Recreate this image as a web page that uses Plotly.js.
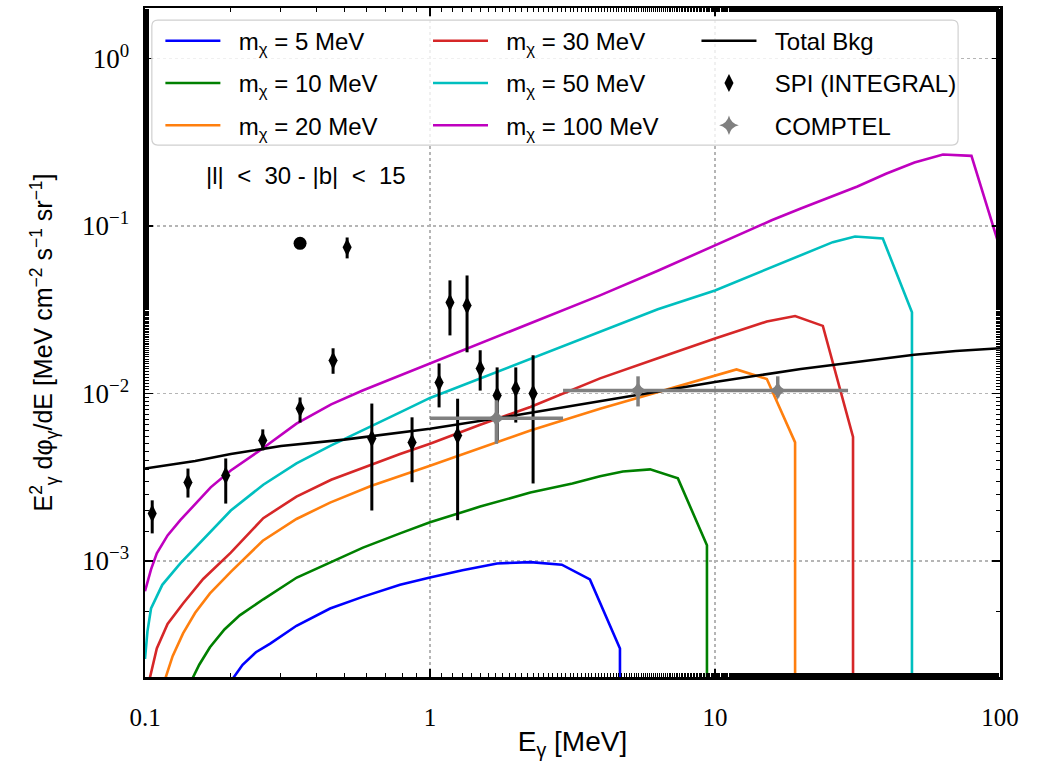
<!DOCTYPE html>
<html>
<head>
<meta charset="utf-8">
<script src="https://cdn.plot.ly/plotly-3.0.1.min.js"></script>
<style>body{margin:0;padding:0;background:#fff;} #chart{width:1038px;height:774px;}</style>
</head>
<body>
<div id="chart"></div>
<script>
// ---- Data ----
const m5E   = [0.204, 0.22, 0.245, 0.275, 0.34, 0.446, 0.58, 0.785, 1, 1.3, 1.72, 2.25, 2.9, 3.64, 4.64, 4.64];
const m5V   = [2.0e-4, 2.4e-4, 2.85e-4, 3.21e-4, 4.1e-4, 5.2e-4, 6.1e-4, 7.2e-4, 7.96e-4, 8.8e-4, 9.66e-4, 9.84e-4, 9.5e-4, 7.76e-4, 3.0e-4, 1e-7];

const m10E  = [0.147, 0.155, 0.169, 0.19, 0.215, 0.26, 0.341, 0.45, 0.582, 0.785, 1, 1.5, 2.25, 3.16, 3.95, 4.75, 5.92, 7.41, 9.37, 9.37];
const m10V  = [2.0e-4, 2.4e-4, 3.05e-4, 3.9e-4, 4.73e-4, 5.9e-4, 7.96e-4, 9.9e-4, 1.2e-3, 1.46e-3, 1.7e-3, 2.11e-3, 2.56e-3, 2.9e-3, 3.2e-3, 3.42e-3, 3.52e-3, 3.11e-3, 1.24e-3, 1e-7];

const m20E  = [0.118, 0.125, 0.136, 0.15, 0.169, 0.2, 0.259, 0.34, 0.446, 0.62, 1, 1.5, 2.25, 3.95, 6.3, 10, 11.9, 15.2, 19.1, 19.1];
const m20V  = [2.0e-4, 2.7e-4, 3.69e-4, 4.9e-4, 6.4e-4, 8.6e-4, 1.32e-3, 1.78e-3, 2.23e-3, 2.8e-3, 3.7e-3, 4.72e-3, 6.0e-3, 8.1e-3, 1.02e-2, 1.28e-2, 1.39e-2, 1.22e-2, 5.1e-3, 1e-7];

const m30E  = [0.104, 0.11, 0.12, 0.136, 0.16, 0.2, 0.26, 0.34, 0.45, 0.58, 0.785, 1, 1.5, 2.25, 3.95, 6.3, 10, 15.2, 19.1, 23.9, 30.5, 30.5];
const m30V  = [2.0e-4, 3.0e-4, 4.2e-4, 5.57e-4, 7.8e-4, 1.12e-3, 1.8e-3, 2.42e-3, 3.05e-3, 3.6e-3, 4.35e-3, 5.0e-3, 6.5e-3, 8.3e-3, 1.23e-2, 1.62e-2, 2.13e-2, 2.69e-2, 2.9e-2, 2.53e-2, 5.5e-3, 1e-7];

const m50E  = [0.1, 0.102, 0.105, 0.115, 0.133, 0.16, 0.2, 0.26, 0.34, 0.45, 0.58, 0.785, 1, 1.5, 2, 3, 3.95, 6.3, 10, 15.8, 20, 25.9, 31, 38.8, 49.1, 49.1];
const m50V  = [2.6e-4, 3.8e-4, 5.2e-4, 7.2e-4, 9.66e-4, 1.35e-3, 2.0e-3, 2.85e-3, 3.82e-3, 4.9e-3, 6.0e-3, 7.7e-3, 9.4e-3, 1.23e-2, 1.49e-2, 1.95e-2, 2.35e-2, 3.18e-2, 4.12e-2, 5.66e-2, 6.7e-2, 8.0e-2, 8.65e-2, 8.41e-2, 3.05e-2, 1e-7];

const m100E = [0.1, 0.105, 0.11, 0.12, 0.133, 0.15, 0.17, 0.2, 0.25, 0.34, 0.45, 0.58, 0.785, 1, 1.5, 2, 3, 3.95, 6.3, 10, 15.8, 20, 31.6, 39.8, 50.1, 63.1, 79.4, 100];
const m100V = [6.6e-4, 8.9e-4, 1.11e-3, 1.42e-3, 1.75e-3, 2.2e-3, 2.75e-3, 3.47e-3, 4.5e-3, 6.6e-3, 8.6e-3, 1.04e-2, 1.28e-2, 1.51e-2, 1.99e-2, 2.42e-2, 3.2e-2, 3.85e-2, 5.4e-2, 7.66e-2, 1.08e-1, 1.27e-1, 1.72e-1, 2.05e-1, 2.39e-1, 2.67e-1, 2.62e-1, 7.34e-2];

const bkgE  = [0.1, 0.15, 0.2, 0.3, 0.5, 0.7, 1, 2, 3, 5, 7, 10, 20, 30, 50, 70, 100];
const bkgV  = [3.56e-3, 3.95e-3, 4.35e-3, 4.85e-3, 5.3e-3, 5.7e-3, 6.15e-3, 7.4e-3, 8.3e-3, 9.6e-3, 1.06e-2, 1.17e-2, 1.40e-2, 1.52e-2, 1.70e-2, 1.79e-2, 1.86e-2];

const spiE   = [0.106, 0.1415, 0.192, 0.259, 0.35, 0.35, 0.457, 0.512, 0.625, 0.865, 1.076, 1.175, 1.25, 1.349, 1.50, 1.72, 2.0, 2.30];
const spiV   = [1.92e-3, 2.94e-3, 3.24e-3, 5.24e-3, 7.87e-2, 8.13e-3, 1.57e-2, 7.45e-2, 5.39e-3, 5.1e-3, 1.16e-2, 3.49e-2, 5.6e-3, 3.35e-2, 1.41e-2, 9.73e-3, 1.07e-2, 1.0e-2];
const spiHi  = [2.3e-3, 3.56e-3, 4.09e-3, 6.1e-3, 7.87e-2, 9.46e-3, 1.86e-2, 8.53e-2, 8.7e-3, 7.2e-3, 1.51e-2, 4.73e-2, 9.3e-3, 5.06e-2, 1.81e-2, 1.43e-2, 1.43e-2, 1.69e-2];
const spiLo  = [1.46e-3, 2.39e-3, 2.2e-3, 4.57e-3, 7.87e-2, 6.7e-3, 1.31e-2, 6.4e-2, 2.0e-3, 2.95e-3, 8.25e-3, 2.22e-2, 1.75e-3, 1.76e-2, 1.04e-2, 5.24e-3, 6.7e-3, 2.9e-3];

const comE   = [1.71, 5.37, 16.6];
const comELo = [1.0, 2.93, 10];
const comEHi = [2.93, 10, 29.3];
const comV   = [7.1e-3, 1.04e-2, 1.04e-2];
const comHi  = [9.1e-3, 1.265e-2, 1.265e-2];
const comLo  = [5.0e-3, 8.36e-3, 9.46e-3];

const tickXvals = [0.1, 1, 10, 100];
const tickXtext = ['0.1', '1', '10', '100'];
const tickYvals = [1e-3, 1e-2, 1e-1, 1];
const tickYtext = ['10<sup>−3</sup>', '10<sup>−2</sup>', '10<sup>−1</sup>', '10<sup>0</sup>'];

// ---- Styles ----
const LW = 2.6;
const GAP = '\u00A0\u00A0';
const sans = 'Liberation Sans, Arial, sans-serif';
const legFont = {family: sans, size: 24, color: '#000'};
function line(x, y, name, color, legend, rank) {
  return {x: x, y: y, name: GAP + name, type: 'scatter', mode: 'lines',
          line: {color: color, width: LW}, legend: legend, legendgroup: name, legendrank: rank};
}
const diff = (a, b) => a.map((v, i) => v - b[i]);

const traces = [
  line(m5E, m5V, 'm<sub>χ</sub> = 5 MeV', '#0000ff', 'legend', 1),
  line(m10E, m10V, 'm<sub>χ</sub> = 10 MeV', '#008000', 'legend', 2),
  line(m20E, m20V, 'm<sub>χ</sub> = 20 MeV', '#ff7f0e', 'legend', 3),
  line(m30E, m30V, 'm<sub>χ</sub> = 30 MeV', '#d62728', 'legend2', 1),
  line(m50E, m50V, 'm<sub>χ</sub> = 50 MeV', '#00bfbf', 'legend2', 2),
  line(m100E, m100V, 'm<sub>χ</sub> = 100 MeV', '#bf00bf', 'legend2', 3),
  line(bkgE, bkgV, 'Total Bkg', '#000000', 'legend3', 1),
  {x: spiE, y: spiV, name: GAP + 'SPI (INTEGRAL)', type: 'scatter', mode: 'markers',
   legend: 'legend3', legendgroup: 'spi', legendrank: 2,
   marker: {color: '#000', size: 13, symbol: spiE.map((e, i) => (spiHi[i] === spiV[i] ? 'circle' : 'diamond-tall'))},
   error_y: {type: 'data', symmetric: false, array: diff(spiHi, spiV), arrayminus: diff(spiV, spiLo),
             color: '#000', thickness: 3, width: 0}},
  {x: comE, y: comV, name: GAP + 'COMPTEL', type: 'scatter', mode: 'markers',
   legend: 'legend3', legendgroup: 'comptel', legendrank: 3,
   marker: {color: '#808080', size: 14, symbol: 'star-diamond'},
   error_x: {type: 'data', symmetric: false, array: diff(comEHi, comE), arrayminus: diff(comE, comELo),
             color: '#808080', thickness: 3.5, width: 0},
   error_y: {type: 'data', symmetric: false, array: diff(comHi, comV), arrayminus: diff(comV, comLo),
             color: '#808080', thickness: 3.5, width: 0}}
];

const legBase = {orientation: 'v', bgcolor: 'rgba(0,0,0,0)', borderwidth: 0, font: legFont,
                 itemwidth: 55, tracegroupgap: 8, yanchor: 'top', xanchor: 'left', y: 0.984};

const axisCommon = {
  type: 'log', showline: true, linecolor: '#000', linewidth: 2.5, mirror: 'ticks',
  ticks: 'inside', ticklen: 8, tickwidth: 1.5, tickcolor: '#000',
  showgrid: true, gridcolor: '#b5b5b5', gridwidth: 1.5, griddash: 'dot',
  zeroline: false, tickmode: 'array',
  minor: {ticks: 'inside', ticklen: 4, tickwidth: 1, tickcolor: '#000', showgrid: false}
};

const layout = {
  width: 1038, height: 774,
  margin: {l: 145, r: 38, t: 8, b: 97},
  paper_bgcolor: '#fff', plot_bgcolor: '#fff',
  showlegend: true,
  xaxis: Object.assign({}, axisCommon, {
    range: [-1, 2], tickvals: tickXvals, ticktext: tickXtext, ticklabelstandoff: 16,
    tickfont: {family: 'Liberation Serif, DejaVu Serif, serif', size: 25, color: '#000'},
    title: {text: 'E<sub>γ</sub> [MeV]', font: {family: sans, size: 28, color: '#000'}, standoff: 2}
  }),
  yaxis: Object.assign({}, axisCommon, {
    range: [-3.693, 0.301], tickvals: tickYvals, ticktext: tickYtext, ticklabelstandoff: 8,
    tickfont: {family: 'Liberation Serif, DejaVu Serif, serif', size: 27, color: '#000'},
    title: {text: 'E<sup>2</sup><sub>γ</sub> dφ<sub>γ</sub>/dE [MeV cm<sup>−2</sup> s<sup>−1</sup> sr<sup>−1</sup>]',
            font: {family: sans, size: 25, color: '#000'}, standoff: 22}
  }),
  legend: Object.assign({}, legBase, {x: 0.018}),
  legend2: Object.assign({}, legBase, {x: 0.331}),
  legend3: Object.assign({}, legBase, {x: 0.645}),
  shapes: [{
    type: 'path', xref: 'paper', yref: 'paper', layer: 'above',
    path: 'M 0.015,0.982 L 0.944,0.982 Q 0.951,0.982 0.951,0.973 L 0.951,0.804 Q 0.951,0.795 0.944,0.795 L 0.015,0.795 Q 0.008,0.795 0.008,0.804 L 0.008,0.973 Q 0.008,0.982 0.015,0.982 Z',
    fillcolor: 'rgba(255,255,255,0.8)', line: {color: '#d0d0d0', width: 1.2}
  }],
  annotations: [{
    xref: 'paper', yref: 'paper', x: 0.188, y: 0.750, xanchor: 'center', yanchor: 'middle', showarrow: false,
    text: '|l|  &lt;  30 - |b|  &lt;  15',
    font: {family: sans, size: 24, color: '#000'}
  }]
};

Plotly.newPlot('chart', traces, layout, {displayModeBar: false, staticPlot: true});
</script>
</body>
</html>
